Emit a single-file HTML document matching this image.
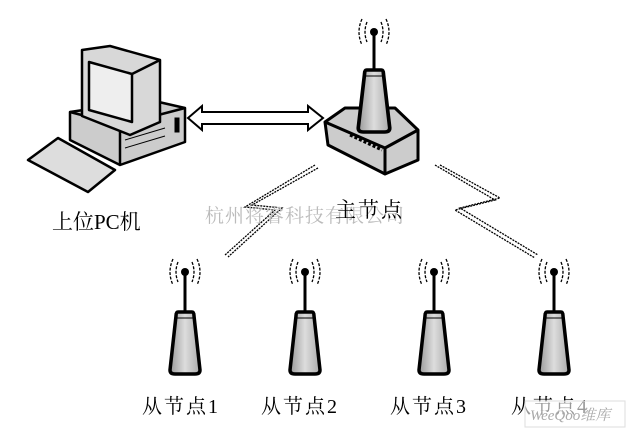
<!DOCTYPE html>
<html><head><meta charset="utf-8"><style>
body{margin:0;background:#fff;width:631px;height:433px;overflow:hidden}
text{font-family:"Liberation Serif","Noto Serif CJK SC",serif}
</style></head><body>
<svg width="631" height="433" viewBox="0 0 631 433" xmlns="http://www.w3.org/2000/svg">
<defs>
<linearGradient id="g" x1="0" x2="1"><stop offset="0" stop-color="#999"/><stop offset=".5" stop-color="#ddd"/><stop offset="1" stop-color="#aaa"/></linearGradient>
<g id="ant">
<path d="M-7,-10 q-4,10 0,20 M7,-10 q4,10 0,20 M-12,-13 q-6,13 0,26 M12,-13 q6,13 0,26" fill="none" stroke="#000" stroke-width="1.3" stroke-dasharray="3,1.5"/>
<circle cx="0" cy="0" r="4" fill="#000"/>
<line x1="0" y1="0" x2="0" y2="42" stroke="#000" stroke-width="3"/>
</g>
<g id="cone">
<path d="M-7,0 L7,0 Q9,0 9,4 L15,58 Q15,62 10,62 L-10,62 Q-15,62 -15,58 L-9,4 Q-9,0 -7,0Z" fill="url(#g)" stroke="#000" stroke-width="3.5"/>
<path d="M-8,6 L8,6" stroke="#000" stroke-width="1"/>
</g>
</defs>
<rect width="631" height="433" fill="#fff"/>
<!-- PC -->
<g stroke="#000" stroke-width="2.5" stroke-linejoin="round">
<path d="M70,112 L150,100 L185,108 L185,142 L120,165 L70,140Z" fill="#ccc"/>
<path d="M70,112 L120,125 L185,108 M120,125 L120,165" fill="none"/>
<path d="M82,50 L110,46 L160,60 L160,122 L130,135 L82,116Z" fill="#d8d8d8"/>
<path d="M89,62 L132,74 L132,122 L89,110Z" fill="#eee"/>
<path d="M132,74 L160,60" fill="none"/>
<path d="M28,160 L58,138 L115,170 L88,192Z" fill="#ddd"/>
</g>
<g stroke="#000" stroke-width="1" fill="none">
<path d="M125,140 L165,128 M125,148 L165,136"/>
<rect x="175" y="118" width="4" height="14" fill="#000"/>
</g>
<!-- double arrow -->
<path d="M188,118 L202,106 L202,112 L308,112 L308,106 L323,118 L308,130 L308,124 L202,124 L202,130Z" fill="#fff" stroke="#000" stroke-width="2"/>
<!-- master -->
<g stroke="#000" stroke-width="3" stroke-linejoin="round">
<path d="M325,122 L345,108 L395,108 L418,130 L418,160 L385,174 L328,145Z" fill="#ccc"/>
<path d="M325,122 L385,148 L418,130 M385,148 L385,174" fill="none"/>
</g>
<path d="M350,135 L382,150" stroke="#000" stroke-width="3" stroke-dasharray="3,2"/>
<use href="#ant" x="374" y="32"/>
<g transform="translate(374,70) scale(1.05,1)"><use href="#cone"/></g>
<!-- lightning -->
<g fill="none" stroke="#000" stroke-width="1.3" stroke-dasharray="2,1">
<path d="M315,165 L245,207 L275,210 L225,255 M318,168 L252,205 L282,208 L228,257"/>
<path d="M435,165 L495,200 L455,210 L535,258 M440,165 L500,198 L460,208 L538,255"/>
</g>
<!-- slaves -->
<use href="#ant" x="185" y="272"/><use href="#cone" x="185" y="312"/>
<use href="#ant" x="305" y="272"/><use href="#cone" x="305" y="312"/>
<use href="#ant" x="434" y="272"/><use href="#cone" x="434" y="312"/>
<use href="#ant" x="554" y="272"/><use href="#cone" x="554" y="312"/>
<!-- labels -->
<text x="52" y="229" font-size="21">上位PC机</text>
<text x="205" y="222" font-size="19" fill="#bbb" letter-spacing="1">杭州将睿科技有限公司</text>
<text x="335" y="217" font-size="21" letter-spacing="2">主节点</text>
<text x="142" y="413" font-size="20" letter-spacing="2">从节点1</text>
<text x="261" y="413" font-size="20" letter-spacing="2">从节点2</text>
<text x="390" y="413" font-size="20" letter-spacing="2">从节点3</text>
<text x="511" y="413" font-size="20" letter-spacing="2">从节点4</text>
<rect x="525" y="401" width="100" height="26" fill="#fff" fill-opacity=".6" stroke="#ddd"/>
<text x="530" y="420" font-size="15" fill="#aaa" font-style="italic">WeeQoo维库</text>
</svg>
</body></html>
